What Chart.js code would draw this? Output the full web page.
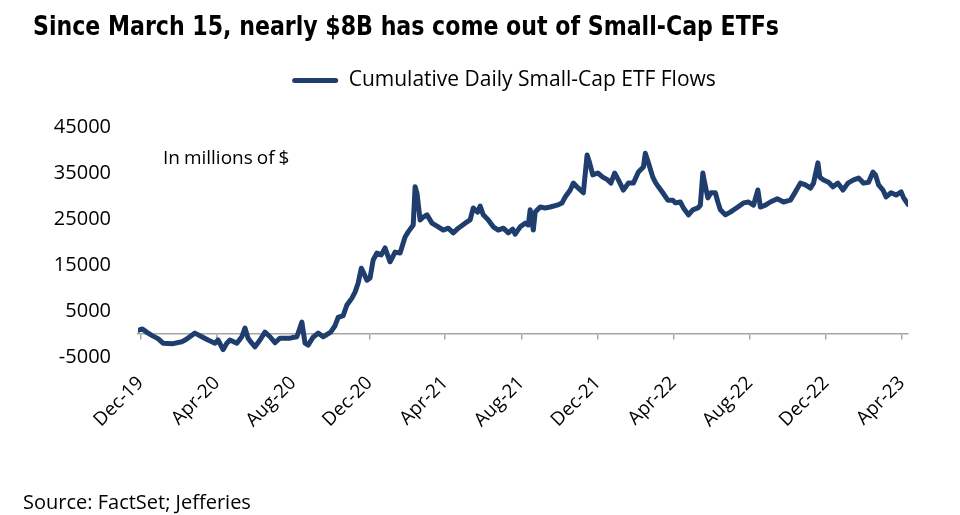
<!DOCTYPE html>
<html>
<head>
<meta charset="utf-8">
<script src="https://cdn.jsdelivr.net/npm/chart.js@4.4.1/dist/chart.umd.min.js"></script>
<style>
  html, body { margin: 0; padding: 0; background: #fff; }
  #wrap { position: relative; width: 960px; height: 515px; overflow: hidden; }
  #c { position: absolute; left: 0; top: 0; }
  #title { position: absolute; left: 33px; top: 9px; white-space: nowrap; font-family: "Liberation Sans Narrow", "DejaVu Sans Condensed", Roboto, sans-serif; font-weight: 700; font-size: 27px; line-height: 34px; color: #000; transform-origin: 0 0; }
  #note { position: absolute; left: 163px; top: 145px; font-family: "Open Sans", sans-serif; font-size: 19px; line-height: 24px; color: #000; white-space: nowrap; word-spacing: -1px; }
  #source { position: absolute; left: 23px; top: 489px; font-family: "Open Sans", sans-serif; font-size: 20px; line-height: 26px; color: #000; white-space: nowrap; }
</style>
</head>
<body>
<div id="wrap">
  <canvas id="c" width="960" height="515"></canvas>
  <div id="title">Since March 15, nearly $8B has come out of Small-Cap ETFs</div>
  <div id="note">In millions of $</div>
  <div id="source">Source: FactSet; Jefferies</div>
</div>
<script>
// ---- data ----
const seriesName = 'Cumulative Daily Small-Cap ETF Flows';
const dates = [
 '2019-11-27','2019-12-04','2019-12-12','2019-12-19','2019-12-29','2020-01-06','2020-01-22','2020-02-05','2020-02-13','2020-02-26',
 '2020-03-08','2020-03-18','2020-03-29','2020-04-03','2020-04-11','2020-04-17','2020-04-22','2020-05-03','2020-05-11','2020-05-16',
 '2020-05-21','2020-05-27','2020-06-01','2020-06-09','2020-06-17','2020-06-25','2020-07-03','2020-07-11','2020-07-27','2020-08-07',
 '2020-08-15','2020-08-20','2020-08-25','2020-09-02','2020-09-10','2020-09-18','2020-09-30','2020-10-07','2020-10-12','2020-10-20',
 '2020-10-26','2020-11-03','2020-11-08','2020-11-13','2020-11-18','2020-11-21','2020-11-27','2020-12-02','2020-12-07','2020-12-13',
 '2020-12-20','2020-12-26','2021-01-03','2021-01-11','2021-01-19','2021-01-27','2021-02-01','2021-02-09','2021-02-12','2021-02-15',
 '2021-02-20','2021-02-25','2021-03-03','2021-03-11','2021-03-21','2021-03-29','2021-04-06','2021-04-14','2021-04-22','2021-05-03',
 '2021-05-11','2021-05-16','2021-05-23','2021-05-27','2021-06-01','2021-06-09','2021-06-17','2021-06-25','2021-07-03','2021-07-11',
 '2021-07-18','2021-07-22','2021-07-30','2021-08-07','2021-08-12','2021-08-15','2021-08-20','2021-08-23','2021-08-31','2021-09-08',
 '2021-09-16','2021-09-27','2021-10-05','2021-10-10','2021-10-18','2021-10-23','2021-10-31','2021-11-08','2021-11-14','2021-11-18',
 '2021-11-23','2021-12-01','2021-12-09','2021-12-17','2021-12-22','2021-12-28','2022-01-03','2022-01-11','2022-01-19','2022-01-27',
 '2022-02-04','2022-02-12','2022-02-15','2022-02-20','2022-02-27','2022-03-03','2022-03-08','2022-03-15','2022-03-23','2022-03-31',
 '2022-04-04','2022-04-12','2022-04-17','2022-04-25','2022-05-02','2022-05-10','2022-05-14','2022-05-18','2022-05-21','2022-05-26',
 '2022-05-31','2022-06-07','2022-06-11','2022-06-15','2022-06-23','2022-07-01','2022-07-13','2022-07-22','2022-07-30','2022-08-07',
 '2022-08-14','2022-08-18','2022-08-26','2022-09-03','2022-09-14','2022-09-24','2022-10-05','2022-10-13','2022-10-21','2022-10-29',
 '2022-11-06','2022-11-11','2022-11-18','2022-11-21','2022-11-27','2022-12-05','2022-12-12','2022-12-20','2022-12-28','2023-01-05',
 '2023-01-14','2023-01-22','2023-01-30','2023-02-07','2023-02-14','2023-02-18','2023-02-23','2023-03-02','2023-03-07','2023-03-15',
 '2023-03-23','2023-03-31','2023-04-04','2023-04-11'
];
const flows = [
 800, 1100, 300, -300, -1000, -2000, -2100, -1700, -1100, 200,
 -600, -1300, -2000, -1300, -3400, -2000, -1300, -2000, -600, 1300,
 -900, -2000, -2800, -1300, 400, -600, -1900, -900, -900, -600,
 2600, -2000, -2400, -700, 200, -600, 400, 1800, 3600, 4000,
 6300, 7800, 9100, 11100, 14300, 13500, 11700, 12200, 16100, 17600,
 17200, 18700, 15700, 17800, 17600, 21100, 22200, 23700, 32000, 30600,
 24800, 25400, 25900, 24100, 23300, 22600, 23000, 22000, 23000, 24100,
 24800, 27400, 26500, 27800, 25900, 24800, 23300, 22600, 23000, 22000,
 22800, 21700, 23300, 24100, 23700, 27000, 22600, 26500, 27600, 27400,
 27600, 28000, 28500, 29800, 31300, 32800, 31700, 30700, 38900, 37200,
 34600, 35000, 34100, 33500, 32800, 35000, 33500, 31300, 32800, 32800,
 35200, 36300, 39300, 37200, 34100, 33000, 32000, 30700, 29100, 29100,
 28500, 28700, 27400, 25900, 27000, 27400, 28000, 35000, 32800, 29600,
 30700, 30700, 28700, 27000, 25900, 26500, 27600, 28500, 28700, 28000,
 31300, 27600, 28000, 28700, 29400, 28700, 29100, 30900, 32800, 32400,
 31700, 32800, 37200, 34100, 33500, 33000, 32000, 32800, 31300, 32800,
 33500, 33900, 32800, 33000, 35200, 34600, 32400, 31300, 29800, 30700,
 30200, 30900, 29600, 28200
];
const tickLabels = ['Dec-19','Apr-20','Aug-20','Dec-20','Apr-21','Aug-21','Dec-21','Apr-22','Aug-22','Dec-22','Apr-23'];
const tickDates = ['2019-12-01','2020-04-01','2020-08-01','2020-12-01','2021-04-01','2021-08-01','2021-12-01','2022-04-01','2022-08-01','2022-12-01','2023-04-01'];
const yTicks = { min: -5000, max: 45000, step: 10000 };

// ---- helpers ----
const BASE = Date.UTC(2019, 11, 1);
function dayOf(s) { const p = s.split('-').map(Number); return (Date.UTC(p[0], p[1] - 1, p[2]) - BASE) / 86400000; }
const points = dates.map((d, i) => ({ x: dayOf(d), y: flows[i] }));
const tickDays = tickDates.map(dayOf);
const xMin = dayOf(dates[0]);
const xMax = dayOf(dates[dates.length - 1]);
const NAVY = '#1F3E6E';
const AXIS = '#A6A6A6';
const setTicks = s => { s.ticks = tickDays.map(v => ({ value: v })); };

// move the legend box to where the reference places it
const legendShift = {
  id: 'legendShift',
  afterLayout(chart) {
    const lg = chart.legend;
    if (!lg) return;
    lg.left += 26; lg.right += 26;
    lg.top -= 26; lg.bottom -= 26;
  }
};

Chart.defaults.font.family = '"Open Sans", sans-serif';
Chart.defaults.color = '#000';

new Chart(document.getElementById('c'), {
  type: 'line',
  data: { datasets: [{
    label: seriesName, data: points,
    borderColor: NAVY, backgroundColor: NAVY, borderWidth: 5,
    pointRadius: 0, tension: 0, borderJoinStyle: 'round', borderCapStyle: 'round'
  }] },
  options: {
    responsive: false, animation: false, devicePixelRatio: 1,
    layout: { padding: { top: 86, left: 48, right: 52, bottom: 0 } },
    plugins: {
      tooltip: { enabled: false },
      legend: {
        position: 'top', align: 'center',
        labels: {
          boxWidth: 46, boxHeight: 5, padding: 10, font: { size: 21 },
          useBorderRadius: true, borderRadius: 2.5,
          generateLabels(chart) {
            const items = Chart.defaults.plugins.legend.labels.generateLabels(chart);
            items.forEach(it => { it.lineWidth = 0; it.fillStyle = NAVY; it.strokeStyle = NAVY; });
            return items;
          }
        }
      }
    },
    scales: {
      x: {
        type: 'linear', min: xMin, max: xMax,
        grid: { display: false }, border: { display: false },
        afterBuildTicks: setTicks,
        afterFit: s => { s.height = 158; },
        ticks: { autoSkip: false, minRotation: 45, maxRotation: 45, padding: 7, font: { size: 19 },
          callback: (v, i) => tickLabels[i] }
      },
      x0: {
        type: 'linear', position: { y: 0 }, min: xMin, max: xMax,
        afterBuildTicks: setTicks,
        ticks: { display: false },
        grid: { display: true, drawOnChartArea: false, drawTicks: true, tickLength: 5, color: AXIS, lineWidth: 1.5 },
        border: { display: true, color: AXIS, width: 1.5 }
      },
      y: {
        min: yTicks.min, max: yTicks.max,
        grid: { display: false }, border: { display: false },
        afterFit: s => { s.width = 90; },
        ticks: { stepSize: yTicks.step, padding: 19, font: { size: 20 }, callback: v => String(v) }
      }
    }
  },
  plugins: [legendShift]
});

// fit the bold title to the reference width
const t = document.getElementById('title');
const w = t.getBoundingClientRect().width;
t.style.transform = 'scaleX(' + (746 / w) + ')';
</script>
</body>
</html>
